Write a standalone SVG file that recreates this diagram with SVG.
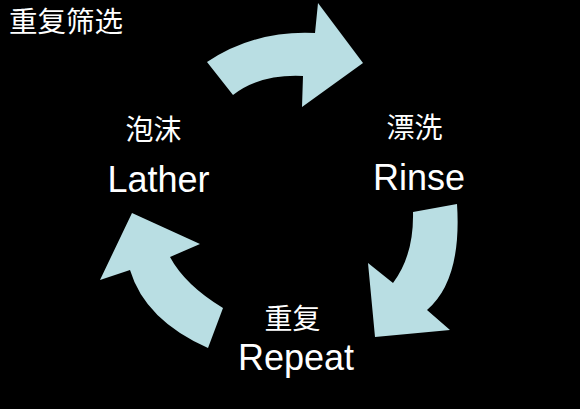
<svg xmlns="http://www.w3.org/2000/svg" width="580" height="409" viewBox="0 0 580 409">
  <style>
    .cjk { font-family: "Noto Sans CJK SC", "Noto Sans", sans-serif; fill: #ffffff; }
    .en { font-family: "Liberation Sans", Arial, sans-serif; fill: #ffffff; font-size: 36px; }
    .arrow { fill: #B9DEE3; stroke: none; }
  </style>
  <rect x="0" y="0" width="580" height="409" fill="#000000"/>
  <text id="title" class="cjk" x="9" y="32" font-size="28.5">重复筛选</text>
  <g id="connectors">
    <path class="arrow" d="M207,62 Q255,30 315,33 L318,3 L363,63 L302,107 L303,76 Q260,74 233,95 Z"/>
    <path class="arrow" d="M457,204 Q462,280 427,310 L450,330 L375,337 L368,263 L393,283 Q414,255 413,212 Z"/>
    <path class="arrow" d="M208,348 Q145,320 130,270 L100,280 L132,213 L200,244 L170,257 Q185,285 223,308 Z"/>
  </g>
  <g id="lather">
    <text class="cjk" x="153.5" y="140" font-size="28" text-anchor="middle">泡沫</text>
    <text class="en" x="158.5" y="192" font-size="37" text-anchor="middle">Lather</text>
  </g>
  <g id="rinse">
    <text class="cjk" x="414.5" y="138" font-size="28" text-anchor="middle">漂洗</text>
    <text class="en" x="419" y="190" text-anchor="middle">Rinse</text>
  </g>
  <g id="repeat">
    <text class="cjk" x="292.5" y="329" font-size="28" text-anchor="middle">重复</text>
    <text class="en" x="296" y="370" text-anchor="middle">Repeat</text>
  </g>
</svg>
